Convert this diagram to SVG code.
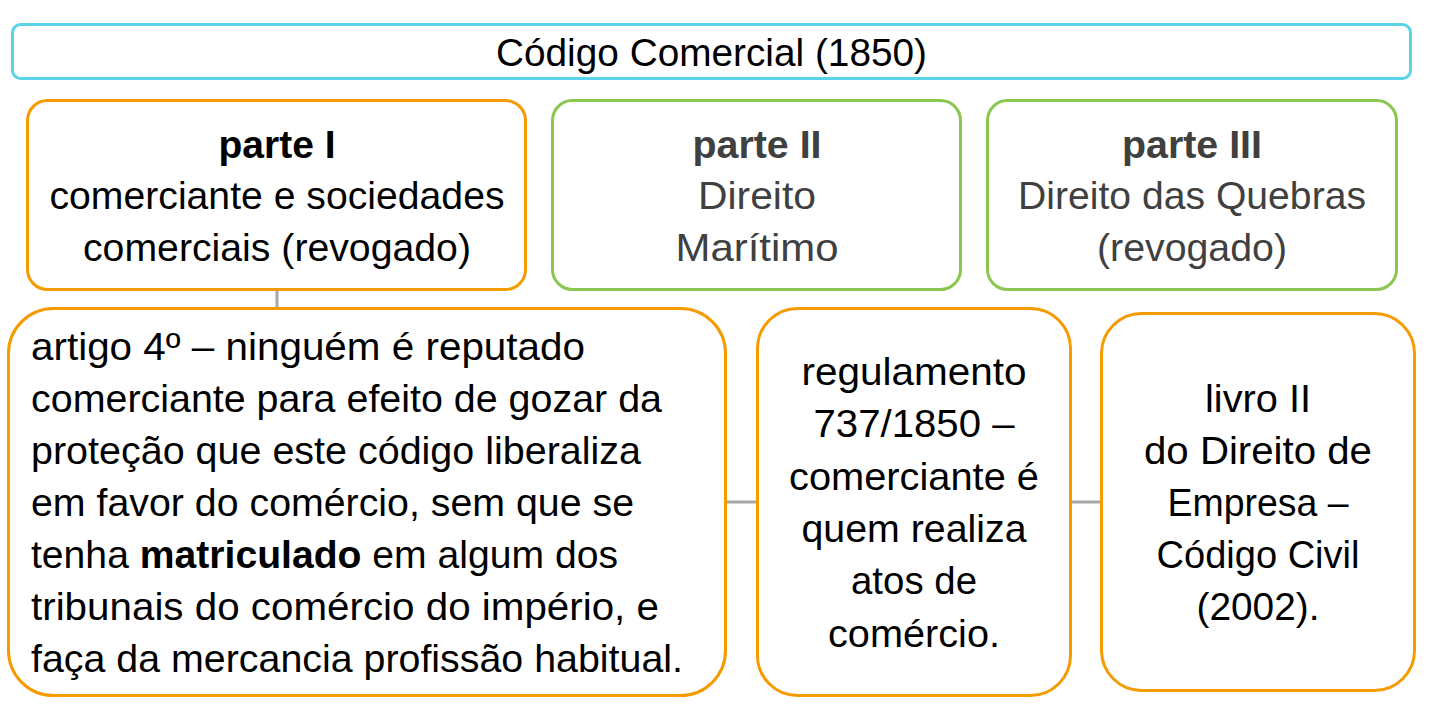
<svg xmlns="http://www.w3.org/2000/svg" width="1436" height="719" viewBox="0 0 1436 719">
<style>
.box{fill:#fff;stroke-width:3}
.cy{stroke:#5BD3EA}
.or{stroke:#F59B00}
.gr{stroke:#8CC652}
.t{font-family:"Liberation Sans",Arial,sans-serif;font-size:39px;fill:#000;text-anchor:middle}
.l{text-anchor:start}
.dk{fill:#404040}
.b{font-weight:bold}
.conn{stroke:#A6A6A6;stroke-width:3;fill:none}
</style>
<rect width="1436" height="719" fill="#fff"/>
<g id="connectors">
<line class="conn" x1="277" y1="290" x2="277" y2="308"/>
<line class="conn" x1="726" y1="502" x2="757" y2="502"/>
<line class="conn" x1="1071" y1="502" x2="1101" y2="502"/>
</g>
<g id="codigo">
<rect class="box cy" x="12.5" y="24.5" width="1398" height="54" rx="8"/>
<text class="t" x="711.5" y="66" textLength="431" lengthAdjust="spacingAndGlyphs">Código Comercial (1850)</text>
</g>
<g id="parte1">
<rect class="box or" x="27.5" y="100.5" width="498" height="189" rx="20"/>
<text class="t b" x="277" y="158" textLength="117" lengthAdjust="spacingAndGlyphs">parte I</text>
<text class="t" x="277" y="209" textLength="455" lengthAdjust="spacingAndGlyphs">comerciante e sociedades</text>
<text class="t" x="277" y="261" textLength="388" lengthAdjust="spacingAndGlyphs">comerciais (revogado)</text>
</g>
<g id="parte2">
<rect class="box gr" x="552.5" y="100.5" width="408" height="189" rx="20"/>
<text class="t b dk" x="757" y="158" textLength="129" lengthAdjust="spacingAndGlyphs">parte II</text>
<text class="t dk" x="757" y="209" textLength="118" lengthAdjust="spacingAndGlyphs">Direito</text>
<text class="t dk" x="757" y="261" textLength="163" lengthAdjust="spacingAndGlyphs">Marítimo</text>
</g>
<g id="parte3">
<rect class="box gr" x="987.5" y="100.5" width="409" height="189" rx="20"/>
<text class="t b dk" x="1192" y="158" textLength="140" lengthAdjust="spacingAndGlyphs">parte III</text>
<text class="t dk" x="1192" y="209" textLength="348" lengthAdjust="spacingAndGlyphs">Direito das Quebras</text>
<text class="t dk" x="1192" y="261" textLength="190" lengthAdjust="spacingAndGlyphs">(revogado)</text>
</g>
<g id="artigo">
<rect class="box or" x="8.5" y="308.5" width="717" height="387" rx="45"/>
<text class="t l" x="31" y="360" textLength="554" lengthAdjust="spacingAndGlyphs">artigo 4º – ninguém é reputado</text>
<text class="t l" x="31" y="412" textLength="631" lengthAdjust="spacingAndGlyphs">comerciante para efeito de gozar da</text>
<text class="t l" x="31" y="464" textLength="610" lengthAdjust="spacingAndGlyphs">proteção que este código liberaliza</text>
<text class="t l" x="31" y="516" textLength="603" lengthAdjust="spacingAndGlyphs">em favor do comércio, sem que se</text>
<text class="t l" x="31" y="568" textLength="587" lengthAdjust="spacingAndGlyphs">tenha <tspan class="b">matriculado</tspan> em algum dos</text>
<text class="t l" x="31" y="620" textLength="628" lengthAdjust="spacingAndGlyphs">tribunais do comércio do império, e</text>
<text class="t l" x="31" y="672" textLength="652" lengthAdjust="spacingAndGlyphs">faça da mercancia profissão habitual.</text>
</g>
<g id="regulamento">
<rect class="box or" x="757.5" y="308.5" width="313" height="387" rx="40"/>
<text class="t" x="914" y="385" textLength="225" lengthAdjust="spacingAndGlyphs">regulamento</text>
<text class="t" x="914" y="437" textLength="201" lengthAdjust="spacingAndGlyphs">737/1850 –</text>
<text class="t" x="914" y="490" textLength="250" lengthAdjust="spacingAndGlyphs">comerciante é</text>
<text class="t" x="914" y="542" textLength="225" lengthAdjust="spacingAndGlyphs">quem realiza</text>
<text class="t" x="914" y="594" textLength="126" lengthAdjust="spacingAndGlyphs">atos de</text>
<text class="t" x="914" y="647" textLength="172" lengthAdjust="spacingAndGlyphs">comércio.</text>
</g>
<g id="livro">
<rect class="box or" x="1101.5" y="313.5" width="313" height="377" rx="40"/>
<text class="t" x="1258" y="412" textLength="106" lengthAdjust="spacingAndGlyphs">livro II</text>
<text class="t" x="1258" y="464" textLength="228" lengthAdjust="spacingAndGlyphs">do Direito de</text>
<text class="t" x="1258" y="516" textLength="181" lengthAdjust="spacingAndGlyphs">Empresa –</text>
<text class="t" x="1258" y="568" textLength="203" lengthAdjust="spacingAndGlyphs">Código Civil</text>
<text class="t" x="1258" y="620" textLength="123" lengthAdjust="spacingAndGlyphs">(2002).</text>
</g>
</svg>
